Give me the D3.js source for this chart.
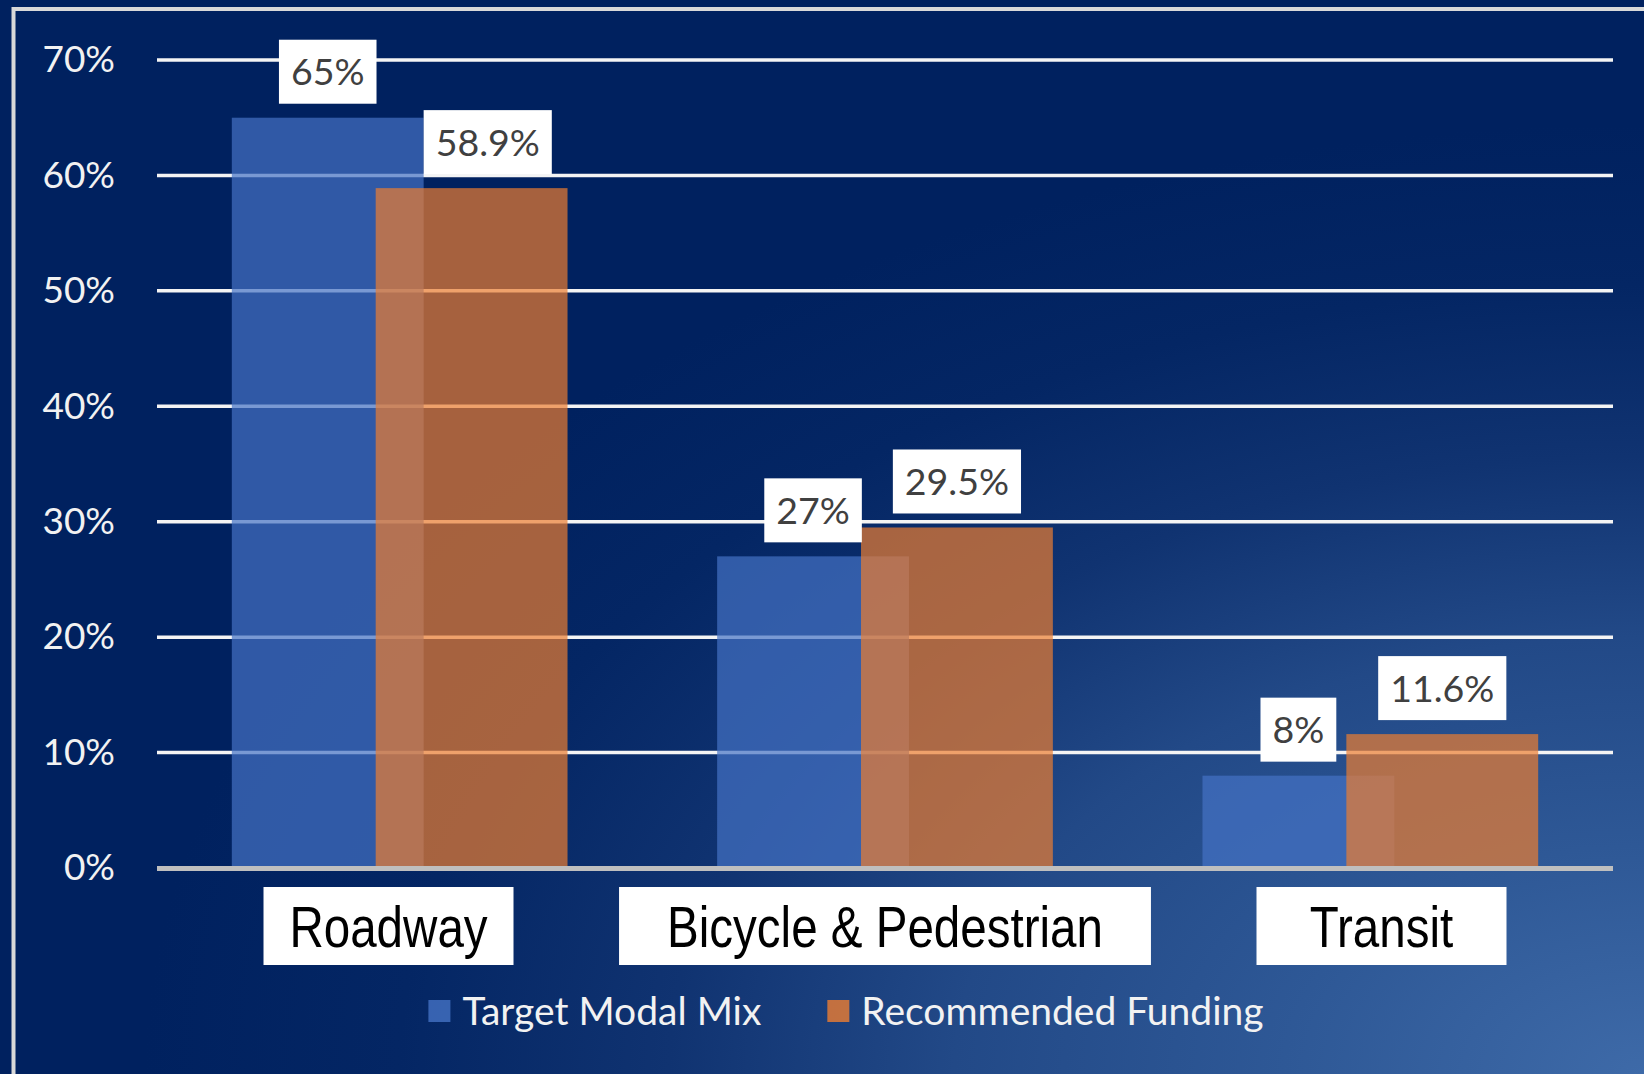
<!DOCTYPE html>
<html>
<head>
<meta charset="utf-8">
<script src="https://cdn.jsdelivr.net/npm/d3@7"></script>
<style>
  html, body { margin: 0; padding: 0; background: #00215f; }
  svg { display: block; }
</style>
</head>
<body>
<div id="chart"></div>
<script>
// data
const categories = ["Roadway", "Bicycle & Pedestrian", "Transit"];
const seriesNames = ["Target Modal Mix", "Recommended Funding"];
const targetMix = [65, 27, 8];
const recFunding = [58.9, 29.5, 11.6];
const yTicks = [0, 10, 20, 30, 40, 50, 60, 70];

const W = 1644, H = 1074;

const svg = d3.select("#chart").append("svg")
    .attr("width", W)
    .attr("height", H);

// background: dark navy getting lighter toward the bottom right
const defs = svg.append("defs");
const grad = defs.append("radialGradient")
    .attr("id", "bg")
    .attr("gradientUnits", "userSpaceOnUse")
    .attr("cx", 0).attr("cy", 0).attr("r", 1)
    .attr("gradientTransform", "translate(1644,1074) scale(1500,950)");
[
    [0, "#3e6aa8"],
    [0.24, "#2e5896"],
    [0.46, "#224987"],
    [0.65, "#103371"],
    [0.83, "#042664"],
    [1, "#00215f"]
].forEach(s => grad.append("stop").attr("offset", s[0]).attr("stop-color", s[1]));

svg.append("rect")
    .attr("width", W).attr("height", H)
    .attr("fill", "url(#bg)");

// chart frame (runs off the right and bottom)
svg.append("rect")
    .attr("x", 13.5).attr("y", 9)
    .attr("width", W + 50).attr("height", H + 50)
    .attr("fill", "none")
    .attr("stroke", "#d9d9d9")
    .attr("stroke-width", 4);

// scales
const plotLeft = 157, plotRight = 1613;
const y = d3.scaleLinear().domain([0, 70]).range([868, 60]);
const x = d3.scaleBand().domain(categories).range([plotLeft, plotRight]);

// excel style bar layout: overlap 25%, gap width 78%
const overlap = 0.25, gapWidth = 0.78;
const barW = x.step() / (2 - overlap + gapWidth);
const offset = barW * (1 - overlap);
const groupW = barW + offset;

// gridlines
svg.append("g")
    .selectAll("line")
    .data(yTicks.filter(d => d > 0))
    .join("line")
    .attr("x1", plotLeft).attr("x2", plotRight)
    .attr("y1", d => y(d)).attr("y2", d => y(d))
    .attr("stroke", "#f4f4f4")
    .attr("stroke-width", 3.5);

// y axis labels
const yAxis = svg.append("g")
    .attr("transform", `translate(${plotLeft},0)`)
    .call(d3.axisLeft(y).tickValues(yTicks).tickFormat(d => d + "%").tickSize(0).tickPadding(42));
yAxis.select(".domain").remove();
yAxis.selectAll("text")
    .attr("font-family", "Lato, 'Noto Sans', sans-serif")
    .attr("font-size", 37)
    .attr("fill", "#f2f2f2");

// bars
const series = [
    { name: seriesNames[0], values: targetMix, color: "#4472c4", dx: 0 },
    { name: seriesNames[1], values: recFunding, color: "#ed7d31", dx: offset }
];

const barLayer = svg.append("g");
series.forEach(s => {
    barLayer.selectAll(null)
        .data(categories)
        .join("rect")
        .attr("x", (c) => x(c) + x.bandwidth() / 2 - groupW / 2 + s.dx)
        .attr("y", (c, i) => y(s.values[i]))
        .attr("width", barW)
        .attr("height", (c, i) => y(0) - y(s.values[i]))
        .attr("fill", s.color)
        .attr("fill-opacity", 0.7);
});

// category axis line
svg.append("line")
    .attr("x1", plotLeft).attr("x2", plotRight)
    .attr("y1", y(0) + 0.5).attr("y2", y(0) + 0.5)
    .attr("stroke", "#bfbfbf")
    .attr("stroke-width", 5);

// data labels in white boxes
const labelLayer = svg.append("g");
const boxH = 64, boxGap = 14, padX = 12;

series.forEach((s, si) => {
    categories.forEach((c, i) => {
        const v = s.values[i];
        const barX = x(c) + x.bandwidth() / 2 - groupW / 2 + s.dx;
        const g = labelLayer.append("g");
        const t = g.append("text")
            .attr("font-family", "Lato, 'Noto Sans', sans-serif")
            .attr("font-size", 37.5)
            .attr("fill", "#404040")
            .attr("text-anchor", "middle")
            .text(v + "%");
        const tw = t.node().getComputedTextLength();
        const bw = tw + padX * 2;
        const bottom = y(v) - boxGap;
        let left = barX + barW / 2 - bw / 2;

        // push the second label clear of the first bar if it would sit on it
        if (si === 1) {
            const otherV = series[0].values[i];
            const otherRight = barX - offset + barW;
            if (y(otherV) < bottom && left < otherRight) left = otherRight;
        }

        g.insert("rect", "text")
            .attr("x", left).attr("y", bottom - boxH)
            .attr("width", bw).attr("height", boxH)
            .attr("fill", "#ffffff");
        t.attr("x", left + bw / 2)
            .attr("y", bottom - boxH / 2)
            .attr("dy", "0.36em");
    });
});

// category labels in white boxes (spread a touch wider than the bands)
const catTop = 887, catH = 78, squeeze = 0.82, spread = 1.023;
const midX = (plotLeft + plotRight) / 2;
categories.forEach(c => {
    const cx = midX + (x(c) + x.bandwidth() / 2 - midX) * spread;
    const g = svg.append("g");
    const t = g.append("text")
        .attr("font-family", "'Liberation Sans', Arial, sans-serif")
        .attr("font-size", 58)
        .attr("fill", "#000000")
        .attr("text-anchor", "middle")
        .attr("transform", `translate(${cx},${catTop + catH / 2 + 20.5}) scale(${squeeze},1)`)
        .text(c);
    const tw = t.node().getComputedTextLength() * squeeze;
    const bw = Math.max(250, tw * 1.22);
    g.insert("rect", "text")
        .attr("x", cx - bw / 2).attr("y", catTop)
        .attr("width", bw).attr("height", catH)
        .attr("fill", "#ffffff");
});

// legend
const legendCenter = 846, legendY = 1011, sq = 22, sqGap = 12, itemGap = 66;
const legend = svg.append("g");
const items = series.map(s => {
    const g = legend.append("g");
    g.append("rect")
        .attr("width", sq).attr("height", sq)
        .attr("y", legendY - sq / 2)
        .attr("fill", s.color)
        .attr("fill-opacity", 0.8);
    const t = g.append("text")
        .attr("x", sq + sqGap)
        .attr("y", legendY)
        .attr("dy", "0.36em")
        .attr("font-family", "Lato, 'Noto Sans', sans-serif")
        .attr("font-size", 39)
        .attr("fill", "#f2f2f2")
        .text(s.name);
    return { g: g, w: sq + sqGap + t.node().getComputedTextLength() };
});
const totalW = d3.sum(items, d => d.w) + itemGap * (items.length - 1);
let lx = legendCenter - totalW / 2;
items.forEach(it => {
    it.g.attr("transform", `translate(${lx},0)`);
    lx += it.w + itemGap;
});
</script>
</body>
</html>
